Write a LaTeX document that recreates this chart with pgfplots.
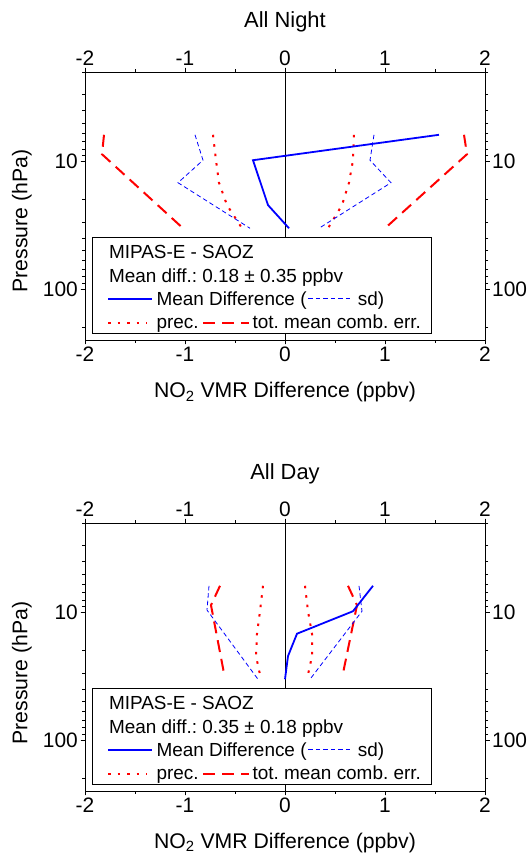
\documentclass[border=0pt]{standalone}
\usepackage{fontspec}
\setmainfont{Liberation Sans}
\usepackage{pgfplots}
\pgfplotsset{compat=1.18}
\frenchspacing
\definecolor{pblue}{RGB}{0,0,255}
\definecolor{pred}{RGB}{255,0,0}
\newcommand{\lblfont}{\fontsize{21.3}{25}\selectfont}
\newcommand{\titfont}{\fontsize{22}{26}\selectfont}
\newcommand{\tickfont}{\fontsize{21}{25}\selectfont}
\newcommand{\legfont}{\fontsize{19}{22}\selectfont}
\tikzset{
  meanl/.style={pblue, line width=1.8bp},
  sdl/.style={pblue, line width=0.8bp, dash pattern=on 4.5bp off 3bp},
  precl/.style={pred, line width=2bp, dash pattern=on 2.5bp off 7bp},
  totl/.style={pred, line width=2bp, dash pattern=on 12bp off 7bp},
}
\pgfplotsset{
  myframe/.style={
    scale only axis, width=400bp, height=268bp,
    xmin=-2, xmax=2, ymin=2, ymax=250,
    y dir=reverse,
    xtick={-2,-1,0,1,2}, xticklabels={-2,-1,0,1,2},
    minor xtick={-1.5,-0.5,0.5,1.5},
    ytick={10,100}, yticklabels={10,100},
    minor ytick={2,3,4,5,6,7,8,9,20,30,40,50,60,70,80,90,200},
    tick align=outside,
    major tick length=4.5bp, minor tick length=3bp,
    tick style={black, line width=0.7bp},
    axis line style={black, line width=0.8bp},
    ticklabel style={font=\tickfont},
    xticklabel style={inner sep=2bp},
    yticklabel style={inner sep=2.5bp},
  },
}
\newcommand{\legendbox}[1]{%
  \draw[black, line width=0.8bp, fill=white] (axis cs:-1.925,39.4) rectangle (axis cs:1.465,221);
  \node[anchor=base west, inner sep=0pt, font=\legfont] at (axis cs:-1.762,57.7) {MIPAS-E - SAOZ};
  \node[anchor=base west, inner sep=0pt, font=\legfont] at (axis cs:-1.762,88) {Mean diff.: #1 ppbv};
  \draw[meanl] (axis cs:-1.769,119) -- (axis cs:-1.334,119);
  \node[anchor=base west, inner sep=0pt, font=\legfont] at (axis cs:-1.287,134) {Mean Difference (};
  \draw[sdl] (axis cs:0.234,119) -- (axis cs:0.676,119);
  \node[anchor=base west, inner sep=0pt, font=\legfont] at (axis cs:0.727,134) {sd)};
  \draw[precl] (axis cs:-1.769,185) -- (axis cs:-1.379,185);
  \node[anchor=base west, inner sep=0pt, font=\legfont] at (axis cs:-1.287,205) {prec.};
  \draw[totl] (axis cs:-0.818,185) -- (axis cs:-0.36,185);
  \node[anchor=base west, inner sep=0pt, font=\legfont] at (axis cs:-0.326,205) {tot. mean comb. err.};
}
\begin{document}
\begin{tikzpicture}
\useasboundingbox (0,0) rectangle (530bp,856bp);
% ---------------- All Night ----------------
\begin{axis}[ymode=log, myframe, at={(85bp,516bp)}, anchor=south west]
\addplot[black, line width=0.8bp] coordinates {(0,2) (0,250)};
\addplot[totl] coordinates {(-1.81,6.2) (-1.83,8.8) (-1.02,33.4)};
\addplot[totl] coordinates {(1.79,6.2) (1.82,8.8) (1.00,33.4)};
\addplot[precl] coordinates {(-0.72,6.2) (-0.69,9.8) (-0.66,14.7) (-0.58,22) (-0.43,33.4)};
\addplot[precl] coordinates {(0.69,6.2) (0.68,9.8) (0.64,14.7) (0.57,22) (0.43,33.4)};
\addplot[sdl] coordinates {(-0.90,6.2) (-0.82,9.8) (-1.07,14.7) (-0.35,33.4)};
\addplot[sdl] coordinates {(0.89,6.2) (0.85,9.8) (1.06,14.7) (0.34,33.4)};
\addplot[meanl] coordinates {(1.54,6.2) (-0.32,9.8) (-0.17,22) (0.04,33.4)};
\legendbox{0.18 ± 0.35}
\end{axis}
\begin{axis}[ymode=log, myframe, at={(85bp,516bp)}, anchor=south west, xticklabel pos=upper, yticklabel pos=right]
\addplot[draw=none] coordinates {(0,10)};
\end{axis}
\node[anchor=base, font=\titfont] at (285bp,828.5bp) {All Night};
\node[anchor=base, font=\lblfont] at (285bp,458bp) {NO\textsubscript{2} VMR Difference (ppbv)};
\node[rotate=90, font=\lblfont] at (22bp,635bp) {Pressure (hPa)};
% ---------------- All Day ----------------
\begin{axis}[ymode=log, myframe, at={(85bp,65bp)}, anchor=south west]
\addplot[black, line width=0.8bp] coordinates {(0,2) (0,250)};
\addplot[totl] coordinates {(-0.65,6.2) (-0.74,8.8) (-0.61,30)};
\addplot[totl] coordinates {(0.63,6.2) (0.72,8.8) (0.58,30)};
\addplot[precl] coordinates {(-0.22,6.2) (-0.25,9.8) (-0.28,14.7) (-0.29,22) (-0.24,33.4)};
\addplot[precl] coordinates {(0.20,6.2) (0.23,9.8) (0.27,14.7) (0.27,22) (0.22,33.4)};
\addplot[sdl] coordinates {(-0.76,6.2) (-0.78,9.6) (-0.27,33.4)};
\addplot[sdl] coordinates {(0.74,6.2) (0.77,9.8) (0.25,33.4)};
\addplot[meanl] coordinates {(0.88,6.2) (0.68,9.8) (0.12,14.7) (0.03,22) (0.0,33.4)};
\legendbox{0.35 ± 0.18}
\end{axis}
\begin{axis}[ymode=log, myframe, at={(85bp,65bp)}, anchor=south west, xticklabel pos=upper, yticklabel pos=right]
\addplot[draw=none] coordinates {(0,10)};
\end{axis}
\node[anchor=base, font=\titfont] at (285bp,376bp) {All Day};
\node[anchor=base, font=\lblfont] at (285bp,7.7bp) {NO\textsubscript{2} VMR Difference (ppbv)};
\node[rotate=90, font=\lblfont] at (22bp,183bp) {Pressure (hPa)};
\end{tikzpicture}
\end{document}
